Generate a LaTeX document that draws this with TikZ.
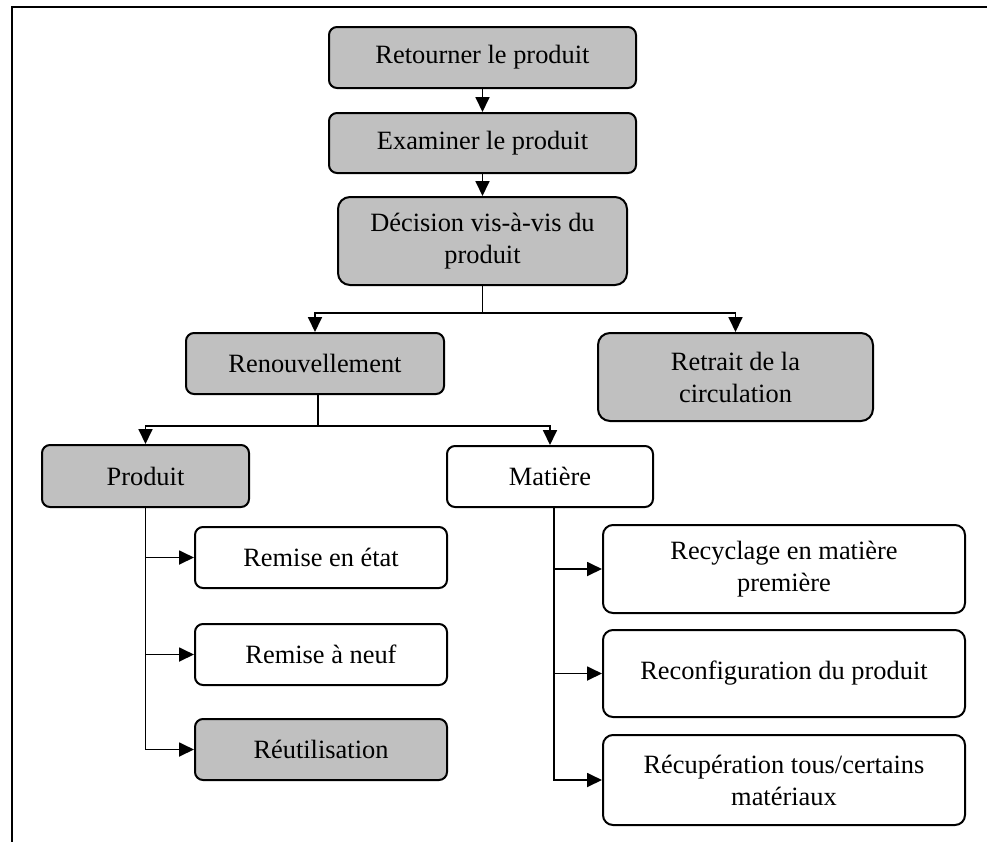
\documentclass[tikz,border=0pt]{standalone}
\usepackage{fontspec}
\setmainfont{Liberation Serif}
\usetikzlibrary{arrows.meta}
\definecolor{boxgrey}{HTML}{C0C0C0}
\begin{document}
\begin{tikzpicture}[x=0.5pt,y=-0.5pt,
  box/.style={draw=black, line width=1pt, rounded corners=4pt, align=center,
    inner sep=0pt, font=\fontsize{13.2}{16}\selectfont},
  greybox/.style={box, fill=boxgrey},
  whitebox/.style={box, fill=white},
  arr/.style={line width=0.9pt, -{Triangle[length=7.5pt,width=7pt]}},
  link/.style={line width=0.7pt}]
\useasboundingbox (0,0) rectangle (987,842);
% outer frame
\draw[line width=1pt] (12,842) -- (12,7) -- (987,7);

% main chain
\node[greybox, minimum width=153.5pt, minimum height=30.5pt] (ret) at (482.5,57.5) {Retourner le produit};
\node[greybox, minimum width=153.5pt, minimum height=30pt] (exa) at (482.5,143) {Examiner le produit};
\node[greybox, rounded corners=6pt, minimum width=144.5pt, minimum height=44pt] (dec) at (482.5,241) {Décision vis-à-vis du\\produit};

\node[greybox, minimum width=129pt, minimum height=30.5pt] (ren) at (315,363.5) {Renouvellement};
\node[greybox, rounded corners=6pt, minimum width=137.5pt, minimum height=44pt] (retr) at (735.5,377) {Retrait de la\\circulation};

\node[greybox, minimum width=103.5pt, minimum height=31pt] (prod) at (145.5,476) {Produit};
\node[whitebox, minimum width=103pt, minimum height=30.5pt] (mat) at (550,476.5) {Matière};

% product branch
\node[whitebox, minimum width=126pt, minimum height=30.5pt] (rem1) at (321,557.5) {Remise en état};
\node[whitebox, minimum width=126pt, minimum height=30.5pt] (rem2) at (321,654.5) {Remise à neuf};
\node[greybox, minimum width=126pt, minimum height=30.5pt] (reut) at (321,749.5) {Réutilisation};

% material branch
\node[whitebox, rounded corners=5pt, minimum width=181pt, minimum height=44pt] (recy) at (784,569) {Recyclage en matière\\première};
\node[whitebox, rounded corners=5pt, minimum width=181pt, minimum height=43.5pt] (reco) at (784,673.5) {Reconfiguration du produit};
\node[whitebox, rounded corners=5pt, minimum width=181pt, minimum height=45pt] (recu) at (784,780) {Récupération tous/certains\\matériaux};

% junction points
\coordinate (j1) at (482.5,313);
\coordinate (j2) at (318,426);
\coordinate (mtop) at (554,507);

% connectors
\draw[arr] (ret) -- (exa);
\draw[arr] (exa) -- (dec);
\draw[link] (dec.south) -- (j1);
\draw[arr] (j1) -| (ren.north);
\draw[arr] (j1) -| (retr.north);
\draw[link] (j2 |- ren.south) -- (j2);
\draw[arr] (j2) -| (prod.north);
\draw[arr] (j2) -| (mat.north);
\draw[arr] (prod.south) |- (rem1.west);
\draw[arr] (prod.south) |- (rem2.west);
\draw[arr] (prod.south) |- (reut.west);
\draw[arr] (mtop) |- (recy.west);
\draw[arr] (mtop) |- (reco.west);
\draw[arr] (mtop) |- (recu.west);
\end{tikzpicture}
\end{document}
